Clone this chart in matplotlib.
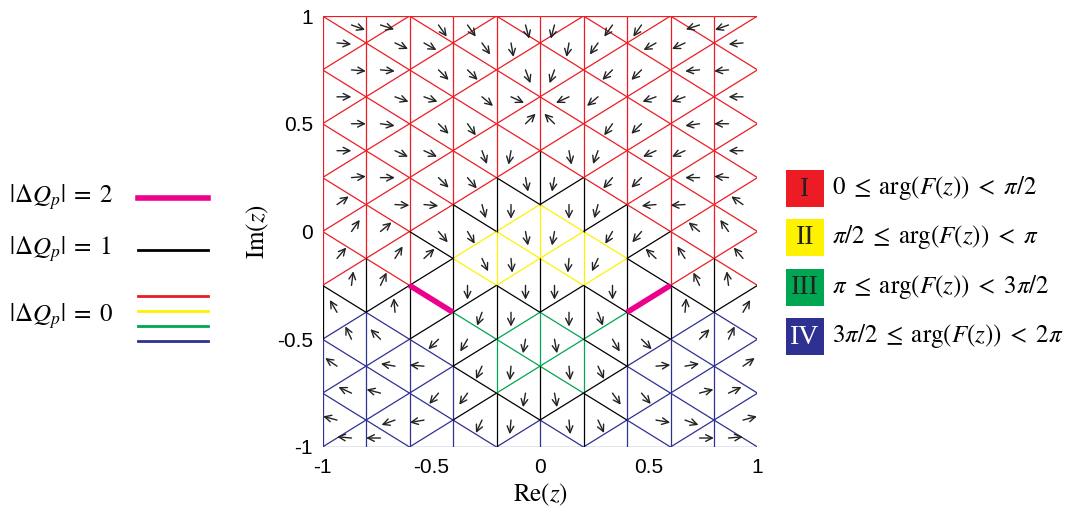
import numpy as np
import matplotlib.pyplot as plt
from matplotlib.patches import Rectangle

plt.rcParams['mathtext.fontset'] = 'stix'
plt.rcParams['axes.unicode_minus'] = False

# mesh columns and node heights
col_x = [-1.0, -0.8, -0.6, -0.4, -0.2, 0.0, 0.2, 0.4, 0.6, 0.8, 1.0]
even_y = [1.0, 0.75, 0.5, 0.25, 0.0, -0.25, -0.5, -0.75, -1.0]
odd_y = [1.0, 0.875, 0.625, 0.375, 0.125, -0.125, -0.375, -0.625, -0.875, -1.0]

# quadrant of arg(F) at each node, per column, top to bottom (1=I .. 4=IV)
node_quadrant = [
    [1, 1, 1, 1, 1, 1, 4, 4, 4],
    [1, 1, 1, 1, 1, 1, 4, 4, 4, 4],
    [1, 1, 1, 1, 1, 1, 4, 4, 4],
    [1, 1, 1, 1, 1, 2, 3, 4, 4, 4],
    [1, 1, 1, 1, 2, 2, 3, 3, 4],
    [1, 1, 1, 1, 2, 2, 3, 3, 4, 4],
    [1, 1, 1, 1, 2, 2, 3, 3, 4],
    [1, 1, 1, 1, 1, 2, 3, 4, 4, 4],
    [1, 1, 1, 1, 1, 1, 4, 4, 4],
    [1, 1, 1, 1, 1, 1, 4, 4, 4, 4],
    [1, 1, 1, 1, 1, 1, 4, 4, 4],
]

nan = np.nan
# arrow direction (deg) in each triangle of every strip, top to bottom
arrow_deg = [
    [-20, -5, -5, 0, 0, 0, 5, 35, 55, 50, 83, 120, 115, 145, 155, 165, 175],
    [-18, -25, -5, -20, -8, -25, 0, -3, 40, 58, 65, 95, 135, 170, 165, -160, 180],
    [-55, -30, -45, -20, -45, -25, -45, -5, -50, 43, nan, nan, -135, 175, -130, -170, -125],
    [-55, -55, -45, -40, -55, -70, -50, -75, -60, -65, -90, -110, -120, -115, -125, -115, -120],
    [-75, -80, -70, -25, 45, -100, -80, -90, -80, -85, -90, -90, -100, -95, -100, -95, -95],
    [-105, -100, -110, -155, 135, -80, -100, -90, -100, -95, -90, -90, -80, -85, -80, -85, -85],
    [-125, -125, -135, -140, -125, -110, -130, -105, -120, -115, -90, -70, -60, -65, -55, -65, -60],
    [-125, -150, -135, -160, -135, -155, -135, -175, -130, 137, nan, nan, -45, 5, -50, -10, -55],
    [-162, -155, -175, -160, -172, -155, 180, -177, 140, 122, 115, 85, 45, 10, 15, -20, 0],
    [-160, -175, -175, 180, 180, 180, 175, 145, 125, 130, 97, 60, 65, 35, 25, 15, 5],
]

quad_colors = {1: '#ED1C24', 2: '#FFF200', 3: '#00A651', 4: '#2E3192'}
magenta = '#EC008C'


def col_nodes(i):
    ys = even_y if i % 2 == 0 else odd_y
    return [(col_x[i], y, q, i % 2) for y, q in zip(ys, node_quadrant[i])]


def edge_style(q1, q2):
    d = abs(q1 - q2)
    d = min(d, 4 - d)
    if d == 0:
        return quad_colors[q1], 0.9, 1
    if d == 1:
        return 'black', 0.9, 2
    return magenta, 4.0, 3


fig = plt.figure(figsize=(10.70, 5.17), dpi=100)
ax = fig.add_axes([322.5 / 1070, 70 / 517, 435 / 1070, 431 / 517])

edges = []
for i in range(len(col_x)):
    nodes = col_nodes(i)
    for a, b in zip(nodes[:-1], nodes[1:]):
        edges.append((a, b))
    if i + 1 < len(col_x):
        right = col_nodes(i + 1)
        for a in nodes:
            for b in right:
                dy = abs(a[1] - b[1])
                if abs(dy - 0.125) < 1e-9 or (dy < 1e-9 and abs(a[1]) == 1.0):
                    edges.append((a, b))

for a, b in edges:
    c, lw, z = edge_style(a[2], b[2])
    ax.plot([a[0], b[0]], [a[1], b[1]], color=c, lw=lw, zorder=z,
            solid_capstyle='butt')

# arrows at triangle centroids (tail at centroid)
L = 0.066
for k in range(len(col_x) - 1):
    pts = col_nodes(k) + col_nodes(k + 1)
    # zigzag order: odd-column node first at the top, even-column node first at the bottom
    top = sorted([p for p in pts if p[1] == 1.0], key=lambda p: -p[3])
    bot = sorted([p for p in pts if p[1] == -1.0], key=lambda p: p[3])
    mid = sorted([p for p in pts if abs(p[1]) < 1.0], key=lambda p: -p[1])
    seq = top + mid + bot
    for j in range(len(seq) - 2):
        ang = arrow_deg[k][j]
        if np.isnan(ang):
            continue
        tri = seq[j:j + 3]
        cx = np.mean([p[0] for p in tri])
        cy = np.mean([p[1] for p in tri])
        dx = L * np.cos(np.radians(ang))
        dy = L * np.sin(np.radians(ang))
        ax.annotate('', xy=(cx + dx, cy + dy), xytext=(cx, cy),
                    arrowprops=dict(arrowstyle='->', lw=1.0, color='#222222',
                                    shrinkA=0, shrinkB=0, mutation_scale=12),
                    zorder=4)

ax.set_xlim(-1, 1)
ax.set_ylim(-1, 1)
for s in ax.spines.values():
    s.set_visible(False)
ax.set_xticks([-1, -0.5, 0, 0.5, 1])
ax.set_xticklabels(['-1', '-0.5', '0', '0.5', '1'])
ax.set_yticks([-1, -0.5, 0, 0.5, 1])
ax.set_yticklabels(['-1', '-0.5', '0', '0.5', '1'])
ax.tick_params(length=0, labelsize=15, pad=8)
for t in ax.get_xticklabels() + ax.get_yticklabels():
    t.set_family('Liberation Sans')
ax.tick_params(axis='y', pad=7)
ax.set_xlabel(r'$\mathrm{Re}(z)$', fontsize=18, labelpad=3)
ax.set_ylabel(r'$\mathrm{Im}(z)$', fontsize=18, labelpad=4)

# overlay in pixel coordinates for the two legends
ov = fig.add_axes([0, 0, 1, 1])
ov.set_xlim(0, 1070)
ov.set_ylim(517, 0)
ov.axis('off')

dq_labels = [r'$|\Delta Q_p|\;=\;2$', r'$|\Delta Q_p|\;=\;1$', r'$|\Delta Q_p|\;=\;0$']
dq_text_y = [197, 249, 316]
for lab, y in zip(dq_labels, dq_text_y):
    ov.text(9, y, lab, fontsize=18, va='center', ha='left')
ov.plot([138, 208], [198, 198], color=magenta, lw=4)
ov.plot([138, 208], [250, 250], color='black', lw=2)
for q, y in zip([1, 2, 3, 4], [296, 311, 326, 341]):
    ov.plot([138, 208], [y, y], color=quad_colors[q], lw=2)

roman = ['I', 'II', 'III', 'IV']
ranges = [r'$0\;\leq\;\mathrm{arg}(F(z))\;<\;\pi/2$',
          r'$\pi/2\;\leq\;\mathrm{arg}(F(z))\;<\;\pi$',
          r'$\pi\;\leq\;\mathrm{arg}(F(z))\;<\;3\pi/2$',
          r'$3\pi/2\;\leq\;\mathrm{arg}(F(z))\;<\;2\pi$']
box_top = [170, 219, 269, 318]
for q, r, rng, y0 in zip([1, 2, 3, 4], roman, ranges, box_top):
    ov.add_patch(Rectangle((786, y0), 38, 37, facecolor=quad_colors[q],
                           edgecolor='none'))
    ov.text(805, y0 + 19, r, fontsize=20, family='Liberation Serif',
            ha='center', va='center',
            color='white' if q == 4 else '#222222')
    ov.text(832, y0 + 18, rng, fontsize=18, ha='left', va='center')

fig.savefig('out.png', dpi=100)
